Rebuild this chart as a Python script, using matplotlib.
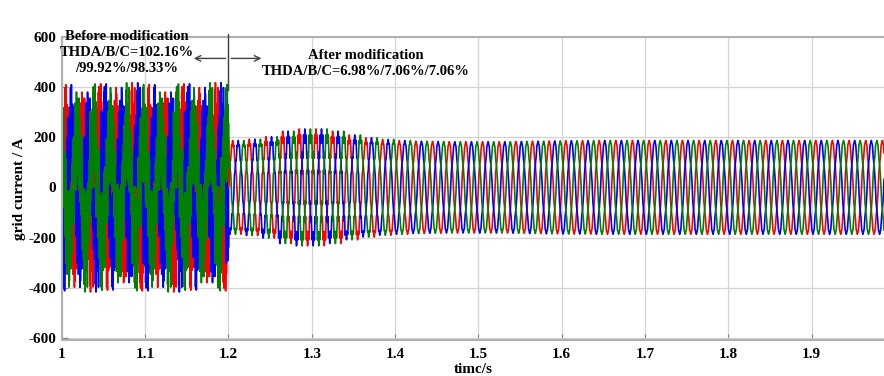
import numpy as np
import matplotlib.pyplot as plt

plt.rcParams['font.family'] = ['Liberation Serif', 'DejaVu Serif']
plt.rcParams['font.weight'] = 'bold'
plt.rcParams['axes.unicode_minus'] = False

# grid frequency and switching instant
f0 = 50.0
t_start = 1.0
t_switch = 1.2
t_end = 2.0
phase_colors = ['red', 'blue', 'green']
phase_shift_deg = [0, -120, 120]

# before modification: fundamental peak plus strong high-frequency content (THD ~100%)
fund_before = 215.0
harm_freq_before = [370, 1030, 1330, 1610, 1890, 2170]
harm_amp_before = [35, 65, 75, 70, 55, 40]
harm_ph_before = [0.3, 2.0, 0.7, 2.9, 1.6, 0.2]

# after modification: fundamental peak per 20 ms cycle (1.20 ... 2.00 s)
amp_after = [175, 178, 185, 200, 205, 205, 200, 192, 186, 182,
             180, 178, 177, 176, 176, 176, 176, 177, 178, 179,
             180, 180, 181, 181, 181, 181, 181, 181, 181, 181,
             181, 181, 181, 181, 181, 181, 181, 181, 181, 181]
# high-order ripple left per cycle after modification
ripple_after = [10, 12, 15, 22, 26, 26, 22, 15, 10, 7,
                5, 4, 4, 4, 4, 4, 4, 4, 4, 4,
                4, 4, 4, 4, 4, 4, 4, 4, 4, 4,
                4, 4, 4, 4, 4, 4, 4, 4, 4, 4]
# low-order harmonics after modification (5th, 7th), peak A
harm_order_after = [5, 7]
harm_amp_after = [8, 6]

x_ticks = [1, 1.1, 1.2, 1.3, 1.4, 1.5, 1.6, 1.7, 1.8, 1.9]
y_ticks = [-600, -400, -200, 0, 200, 400, 600]

t = np.arange(t_start, t_end, 2e-5)
w = 2 * np.pi * f0
before = t < t_switch
cycle_idx = np.clip(((t - t_switch) * f0).astype(int), 0, len(amp_after) - 1)
amp_a = np.array(amp_after, dtype=float)[cycle_idx]
rip_a = np.array(ripple_after, dtype=float)[cycle_idx]

fig = plt.figure(figsize=(8.84, 3.76), dpi=100)
ax = fig.add_axes([0.070, 0.096, 0.93, 0.806])

for color, sh in zip(phase_colors, phase_shift_deg):
    ph = np.deg2rad(sh)
    # before
    ib = fund_before * np.sin(w * t + ph)
    for f, a, p in zip(harm_freq_before, harm_amp_before, harm_ph_before):
        ib = ib + a * np.sin(2 * np.pi * f * t + p + ph * f / f0)
    # after
    ia = amp_a * np.sin(w * t + ph)
    for h, a in zip(harm_order_after, harm_amp_after):
        ia = ia + a * np.sin(h * (w * t + ph))
    ia = ia + rip_a * np.sin(2 * np.pi * 650 * t + ph * 13)
    i = np.where(before, ib, ia)
    ax.plot(t, i, color=color, lw=1.2)

ax.set_xlim(1.0, 1.987)
ax.set_ylim(-608, 600)
ax.set_xticks(x_ticks)
ax.set_xticklabels(['1', '1.1', '1.2', '1.3', '1.4', '1.5', '1.6', '1.7', '1.8', '1.9'])
ax.set_yticks(y_ticks)
ax.tick_params(direction='in', length=4, color='#808080', labelsize=11)
ax.tick_params(axis='y', pad=4)
ax.tick_params(axis='x', pad=6)
for lab in ax.get_xticklabels() + ax.get_yticklabels():
    lab.set_fontweight('bold')
ax.grid(True, color='#d4d4d4', lw=0.9)
for s in ['left', 'bottom', 'top']:
    ax.spines[s].set_color('#b0b0b0')
    ax.spines[s].set_linewidth(1.5)
ax.spines['right'].set_visible(False)

ax.set_xlabel('timc/s', fontsize=11, fontweight='bold', labelpad=1)
ax.set_ylabel('grid current / A', fontsize=11, fontweight='bold', labelpad=2)

# annotations
ax.plot([t_switch, t_switch], [390, 612], color='#404040', lw=1, clip_on=False, zorder=5)
ax.annotate('', xy=(1.155, 514), xytext=(1.2, 514),
            arrowprops=dict(arrowstyle='->', color='#404040', lw=1), zorder=5)
ax.annotate('', xy=(1.243, 514), xytext=(1.2, 514),
            arrowprops=dict(arrowstyle='->', color='#404040', lw=1), zorder=5)
ax.text(1.078, 538, 'Before modification\nTHDA/B/C=102.16%\n/99.92%/98.33%',
        ha='center', va='center', fontsize=10.5, fontweight='bold',
        linespacing=1.3, zorder=6)
ax.text(1.365, 495, 'After modification\nTHDA/B/C=6.98%/7.06%/7.06%',
        ha='center', va='center', fontsize=10.5, fontweight='bold',
        linespacing=1.3, zorder=6)

fig.savefig('out.png', dpi=100)
